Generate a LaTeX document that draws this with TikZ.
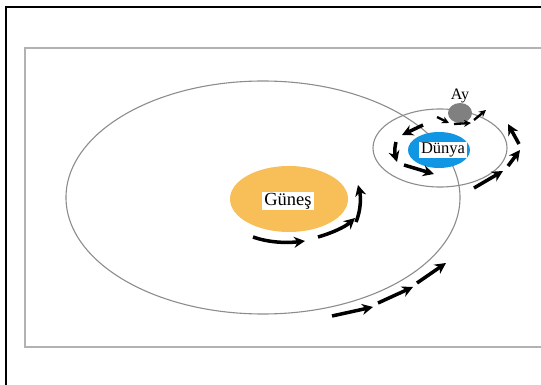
\documentclass[tikz,border=0pt]{standalone}
\usepackage{fontspec}
\setmainfont{Liberation Serif}
\usetikzlibrary{arrows.meta,positioning,shapes.geometric}
\definecolor{sunyellow}{RGB}{248,190,88}
\definecolor{earthblue}{RGB}{16,150,226}
\definecolor{moongray}{RGB}{128,128,128}

\begin{document}
\begin{tikzpicture}
[x=1pt, y=-1pt,
% STYLES
% The body style is used to draw the sun, the earth and the moon
body/.style={ellipse, inner sep=0pt},
% The bodyname style is used to write the names of the bodies
bodyname/.style={rectangle, fill=white, inner xsep=2pt, inner ysep=1pt},
% The orbit style is used to draw the paths
orbit/.style={draw=black!45, line width=1.1pt},
% The spin style is used to draw the motion arrows
spin/.style={line width=3.5pt, -{Stealth[length=11pt,width=11pt]}},
smallspin/.style={line width=2.3pt, -{Stealth[length=7pt,width=7pt]}}]

\useasboundingbox (0,0) rectangle (541,385);

% Draw frames
\draw[line width=2.8pt] (6,385) -- (6,7) -- (541,7);
\draw[black!30, line width=1.2pt] (541,48) -- (25,48) -- (25,347) -- (541,347);

% Draw orbits and bodies
\draw[orbit] (263,197.5) ellipse [x radius=197pt, y radius=116.5pt];
\node [body, fill=sunyellow, minimum width=118pt, minimum height=66pt] (sun) at (289,199) {};
\draw[orbit] (440,148) ellipse [x radius=67pt, y radius=39pt];
\node [body, fill=earthblue, minimum width=62pt, minimum height=36pt] (earth) at (439,150) {};
\node [body, fill=moongray, minimum width=24pt, minimum height=20pt] (moon) at (460,113) {};

% Names
\node [bodyname, font=\fontsize{18.5}{18.5}\selectfont] (sun-name) at (288,201) {Güneş};
\node [bodyname, font=\fontsize{16.5}{16.5}\selectfont] (earth-name) at (443,150) {Dünya};
\node [font=\fontsize{16}{16}\selectfont, above=-4pt of moon] (moon-name) {Ay};

% Sun spin
\draw[spin] (253,237) .. controls (270,243) and (288,243) .. (305,241);
\draw[spin] (318,237) .. controls (332,233) and (345,227) .. (355,218);
\draw[spin] (356,222) .. controls (361,210) and (361,197) .. (358,185);

% Earth orbit motion
\draw[spin] (332,316) -- (373,307);
\draw[spin] (378,303) -- (413,287);
\draw[spin] (417,283) -- (446,263);
\draw[spin] (474,188) -- (503,171);
\draw[spin] (508,166) -- (520,150);
\draw[spin] (519,144) -- (508,124);

% Earth spin
\draw[spin] (423,125) -- (402,135);
\draw[spin] (396,142) .. controls (394,150) and (395,155) .. (397,162);
\draw[spin] (404,165) -- (434,174);

% Moon spin
\draw[smallspin] (437,117) -- (449,123);
\draw[smallspin] (454,124) -- (471,123);
\draw[smallspin] (474,120) -- (486,110);

\end{tikzpicture}
\end{document}
